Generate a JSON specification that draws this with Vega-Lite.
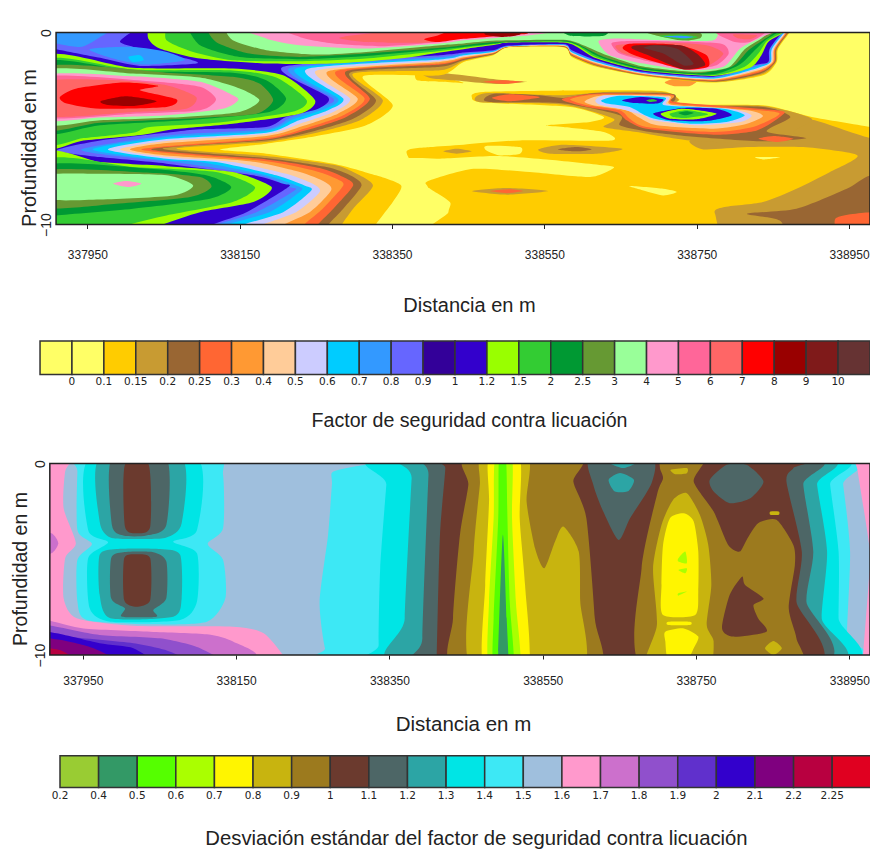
{"$schema":"https://vega.github.io/schema/vega-lite/v6.json","padding":{"top":26.5,"left":0,"right":0,"bottom":0},"background":"white","config":{"view":{"stroke":null},"font":"Liberation Sans"},"resolve":{"scale":{"fill":"independent"}},"vconcat":[
{"width":870,"height":192,"layer":[
{"data":{"values":[
{"p":1,"c":0,"x":337800,"d":1},{"p":1,"c":0,"x":339100,"d":1},{"p":1,"c":0,"x":339100,"d":-11},{"p":1,"c":0,"x":337800,"d":-11},
{"p":2,"c":2,"x":338455,"d":-3.41},{"p":2,"c":2,"x":338470,"d":-3.1},{"p":2,"c":2,"x":338628,"d":-3.01},{"p":2,"c":2,"x":338706,"d":-3.06},{"p":2,"c":2,"x":338727,"d":-3.48},{"p":2,"c":2,"x":338726,"d":-3.76},{"p":2,"c":2,"x":338837,"d":-3.79},{"p":2,"c":2,"x":338901,"d":-4.4},{"p":2,"c":2,"x":338978,"d":-4.92},{"p":2,"c":2,"x":339034,"d":-5.36},{"p":2,"c":2,"x":339034,"d":-11.1},{"p":2,"c":2,"x":338420,"d":-11.1},{"p":2,"c":2,"x":338424,"d":-9.36},{"p":2,"c":2,"x":338426,"d":-8.83},{"p":2,"c":2,"x":338400,"d":-8.14},{"p":2,"c":2,"x":338396,"d":-7.97},{"p":2,"c":2,"x":338369,"d":-6.23},{"p":2,"c":2,"x":338400,"d":-5.97},{"p":2,"c":2,"x":338444,"d":-5.84},{"p":2,"c":2,"x":338518,"d":-5.62},{"p":2,"c":2,"x":338638,"d":-5.62},{"p":2,"c":2,"x":338628,"d":-5.18},{"p":2,"c":2,"x":338575,"d":-4.92},{"p":2,"c":2,"x":338553,"d":-4.83},{"p":2,"c":2,"x":338610,"d":-4.66},{"p":2,"c":2,"x":338628,"d":-4.4},{"p":2,"c":2,"x":338584,"d":-3.88},{"p":2,"c":2,"x":338470,"d":-3.65},
{"p":3,"c":3,"x":338873,"d":-4.92},{"p":3,"c":3,"x":338899,"d":-4.52},{"p":3,"c":3,"x":338978,"d":-5.5},{"p":3,"c":3,"x":339034,"d":-5.62},{"p":3,"c":3,"x":339034,"d":-11.1},{"p":3,"c":3,"x":338807,"d":-11.1},{"p":3,"c":3,"x":338774,"d":-9.44},{"p":3,"c":3,"x":338785,"d":-9.1},{"p":3,"c":3,"x":338837,"d":-8.83},{"p":3,"c":3,"x":338881,"d":-8.14},{"p":3,"c":3,"x":338925,"d":-7.27},{"p":3,"c":3,"x":338961,"d":-6.4},{"p":3,"c":3,"x":338890,"d":-5.97},{"p":3,"c":3,"x":338816,"d":-5.97},{"p":3,"c":3,"x":338759,"d":-6.09},{"p":3,"c":3,"x":338741,"d":-5.62},{"p":3,"c":3,"x":338794,"d":-5.18},
{"p":4,"c":4,"x":338816,"d":-9.44},{"p":4,"c":4,"x":338881,"d":-9.18},{"p":4,"c":4,"x":338947,"d":-8.14},{"p":4,"c":4,"x":338978,"d":-7.44},{"p":4,"c":4,"x":339034,"d":-7.27},{"p":4,"c":4,"x":339034,"d":-11.1},{"p":4,"c":4,"x":338886,"d":-11.1},{"p":4,"c":4,"x":338859,"d":-9.79},
{"p":5,"c":5,"x":338932,"d":-9.7},{"p":5,"c":5,"x":338978,"d":-9.36},{"p":5,"c":5,"x":339034,"d":-9.36},{"p":5,"c":5,"x":339034,"d":-11.1},{"p":5,"c":5,"x":338947,"d":-11.1},
{"p":6,"c":0,"x":338356,"d":-6.66},{"p":6,"c":0,"x":338383,"d":-6.54},{"p":6,"c":0,"x":338413,"d":-6.57},{"p":6,"c":0,"x":338487,"d":-6.43},{"p":6,"c":0,"x":338553,"d":-6.61},{"p":6,"c":0,"x":338628,"d":-6.92},{"p":6,"c":0,"x":338641,"d":-7.06},{"p":6,"c":0,"x":338610,"d":-7.53},{"p":6,"c":0,"x":338531,"d":-7.27},{"p":6,"c":0,"x":338457,"d":-7.1},{"p":6,"c":0,"x":338400,"d":-7.7},{"p":6,"c":0,"x":338387,"d":-8.05},{"p":6,"c":0,"x":338356,"d":-8.14},
{"p":7,"c":0,"x":338474,"d":-5.91},{"p":7,"c":0,"x":338518,"d":-5.97},{"p":7,"c":0,"x":338518,"d":-6.31},{"p":7,"c":0,"x":338492,"d":-6.4},{"p":7,"c":0,"x":338474,"d":-6.14},
{"p":8,"c":0,"x":338662,"d":-8},{"p":8,"c":0,"x":338706,"d":-8.14},{"p":8,"c":0,"x":338724,"d":-8.31},{"p":8,"c":0,"x":338706,"d":-8.49},{"p":8,"c":0,"x":338680,"d":-8.23},
{"p":9,"c":0,"x":338827,"d":-6.49},{"p":9,"c":0,"x":338859,"d":-6.49},{"p":9,"c":0,"x":338837,"d":-6.61},
{"p":10,"c":3,"x":338417,"d":-6.19},{"p":10,"c":3,"x":338435,"d":-6.05},{"p":10,"c":3,"x":338455,"d":-6.19},{"p":10,"c":3,"x":338435,"d":-6.31},
{"p":11,"c":3,"x":338542,"d":-6.09},{"p":11,"c":3,"x":338575,"d":-5.84},{"p":11,"c":3,"x":338652,"d":-6.05},{"p":11,"c":3,"x":338619,"d":-6.31},{"p":11,"c":3,"x":338558,"d":-6.31},
{"p":12,"c":4,"x":338568,"d":-6.09},{"p":12,"c":4,"x":338592,"d":-5.97},{"p":12,"c":4,"x":338612,"d":-6.09},{"p":12,"c":4,"x":338592,"d":-6.19},
{"p":13,"c":3,"x":338455,"d":-8.26},{"p":13,"c":3,"x":338501,"d":-8.1},{"p":13,"c":3,"x":338555,"d":-8.26},{"p":13,"c":3,"x":338501,"d":-8.45},
{"p":14,"c":5,"x":338479,"d":-8.26},{"p":14,"c":5,"x":338505,"d":-8.17},{"p":14,"c":5,"x":338522,"d":-8.26},{"p":14,"c":5,"x":338501,"d":-8.37},
{"p":15,"c":3,"x":338459,"d":-3.41},{"p":15,"c":3,"x":338477,"d":-3.15},{"p":15,"c":3,"x":338575,"d":-3.27},{"p":15,"c":3,"x":338628,"d":-3.1},{"p":15,"c":3,"x":338706,"d":-3.1},{"p":15,"c":3,"x":338726,"d":-3.48},{"p":15,"c":3,"x":338726,"d":-3.79},{"p":15,"c":3,"x":338837,"d":-3.83},{"p":15,"c":3,"x":338901,"d":-4.49},{"p":15,"c":3,"x":338877,"d":-5.18},{"p":15,"c":3,"x":338897,"d":-5.53},{"p":15,"c":3,"x":338837,"d":-5.79},{"p":15,"c":3,"x":338741,"d":-5.62},{"p":15,"c":3,"x":338671,"d":-5.18},{"p":15,"c":3,"x":338628,"d":-4.92},{"p":15,"c":3,"x":338641,"d":-4.49},{"p":15,"c":3,"x":338575,"d":-3.76},{"p":15,"c":3,"x":338470,"d":-3.65},
{"p":16,"c":4,"x":338472,"d":-3.41},{"p":16,"c":4,"x":338487,"d":-3.18},{"p":16,"c":4,"x":338544,"d":-3.27},{"p":16,"c":4,"x":338575,"d":-3.41},{"p":16,"c":4,"x":338619,"d":-3.15},{"p":16,"c":4,"x":338715,"d":-3.18},{"p":16,"c":4,"x":338722,"d":-3.48},{"p":16,"c":4,"x":338722,"d":-3.83},{"p":16,"c":4,"x":338837,"d":-3.88},{"p":16,"c":4,"x":338873,"d":-4.4},{"p":16,"c":4,"x":338842,"d":-5.15},{"p":16,"c":4,"x":338894,"d":-5.5},{"p":16,"c":4,"x":338837,"d":-5.67},{"p":16,"c":4,"x":338750,"d":-5.44},{"p":16,"c":4,"x":338684,"d":-5.15},{"p":16,"c":4,"x":338649,"d":-4.83},{"p":16,"c":4,"x":338649,"d":-4.31},{"p":16,"c":4,"x":338575,"d":-3.7},{"p":16,"c":4,"x":338479,"d":-3.62},
{"p":17,"c":5,"x":338481,"d":-3.41},{"p":17,"c":5,"x":338505,"d":-3.22},{"p":17,"c":5,"x":338544,"d":-3.37},{"p":17,"c":5,"x":338505,"d":-3.58},
{"p":18,"c":5,"x":338573,"d":-3.48},{"p":18,"c":5,"x":338619,"d":-3.18},{"p":18,"c":5,"x":338717,"d":-3.23},{"p":18,"c":5,"x":338722,"d":-3.62},{"p":18,"c":5,"x":338855,"d":-4.05},{"p":18,"c":5,"x":338862,"d":-4.31},{"p":18,"c":5,"x":338829,"d":-5.1},{"p":18,"c":5,"x":338772,"d":-5.32},{"p":18,"c":5,"x":338684,"d":-5.01},{"p":18,"c":5,"x":338658,"d":-4.57},{"p":18,"c":5,"x":338645,"d":-4.14},{"p":18,"c":5,"x":338606,"d":-3.88},
{"p":19,"c":6,"x":338584,"d":-3.48},{"p":19,"c":6,"x":338619,"d":-3.23},{"p":19,"c":6,"x":338717,"d":-3.27},{"p":19,"c":6,"x":338719,"d":-3.7},{"p":19,"c":6,"x":338846,"d":-4.1},{"p":19,"c":6,"x":338857,"d":-4.31},{"p":19,"c":6,"x":338824,"d":-4.92},{"p":19,"c":6,"x":338772,"d":-5.18},{"p":19,"c":6,"x":338684,"d":-4.92},{"p":19,"c":6,"x":338662,"d":-4.49},{"p":19,"c":6,"x":338649,"d":-4.05},{"p":19,"c":6,"x":338606,"d":-3.79},
{"p":20,"c":7,"x":338603,"d":-3.58},{"p":20,"c":7,"x":338628,"d":-3.27},{"p":20,"c":7,"x":338713,"d":-3.3},{"p":20,"c":7,"x":338717,"d":-3.76},{"p":20,"c":7,"x":338816,"d":-4.05},{"p":20,"c":7,"x":338837,"d":-4.35},{"p":20,"c":7,"x":338816,"d":-4.75},{"p":20,"c":7,"x":338772,"d":-5.01},{"p":20,"c":7,"x":338698,"d":-4.83},{"p":20,"c":7,"x":338673,"d":-4.4},{"p":20,"c":7,"x":338658,"d":-4.05},{"p":20,"c":7,"x":338614,"d":-3.79},
{"p":21,"c":8,"x":338617,"d":-3.53},{"p":21,"c":8,"x":338632,"d":-3.27},{"p":21,"c":8,"x":338711,"d":-3.36},{"p":21,"c":8,"x":338713,"d":-3.76},{"p":21,"c":8,"x":338794,"d":-3.97},{"p":21,"c":8,"x":338822,"d":-4.31},{"p":21,"c":8,"x":338807,"d":-4.66},{"p":21,"c":8,"x":338750,"d":-4.83},{"p":21,"c":8,"x":338693,"d":-4.57},{"p":21,"c":8,"x":338680,"d":-4.31},{"p":21,"c":8,"x":338649,"d":-3.97},{"p":21,"c":8,"x":338623,"d":-3.76},
{"p":22,"c":9,"x":338625,"d":-3.53},{"p":22,"c":9,"x":338649,"d":-3.3},{"p":22,"c":9,"x":338708,"d":-3.39},{"p":22,"c":9,"x":338708,"d":-3.79},{"p":22,"c":9,"x":338785,"d":-3.97},{"p":22,"c":9,"x":338813,"d":-4.31},{"p":22,"c":9,"x":338789,"d":-4.66},{"p":22,"c":9,"x":338741,"d":-4.75},{"p":22,"c":9,"x":338698,"d":-4.52},{"p":22,"c":9,"x":338682,"d":-4.31},{"p":22,"c":9,"x":338662,"d":-3.88},{"p":22,"c":9,"x":338632,"d":-3.7},
{"p":23,"c":13,"x":338652,"d":-3.53},{"p":23,"c":13,"x":338676,"d":-3.36},{"p":23,"c":13,"x":338706,"d":-3.48},{"p":23,"c":13,"x":338698,"d":-3.7},{"p":23,"c":13,"x":338667,"d":-3.67},
{"p":24,"c":15,"x":338684,"d":-3.53},{"p":24,"c":15,"x":338693,"d":-3.48},{"p":24,"c":15,"x":338698,"d":-3.57},{"p":24,"c":15,"x":338689,"d":-3.62},
{"p":25,"c":13,"x":338693,"d":-4.22},{"p":25,"c":13,"x":338732,"d":-3.93},{"p":25,"c":13,"x":338776,"d":-3.97},{"p":25,"c":13,"x":338796,"d":-4.31},{"p":25,"c":13,"x":338763,"d":-4.61},{"p":25,"c":13,"x":338715,"d":-4.57},
{"p":26,"c":14,"x":338703,"d":-4.22},{"p":26,"c":14,"x":338732,"d":-3.97},{"p":26,"c":14,"x":338776,"d":-4.22},{"p":26,"c":14,"x":338750,"d":-4.52},{"p":26,"c":14,"x":338715,"d":-4.49},
{"p":27,"c":15,"x":338715,"d":-4.22},{"p":27,"c":15,"x":338737,"d":-4.05},{"p":27,"c":15,"x":338765,"d":-4.26},{"p":27,"c":15,"x":338737,"d":-4.45},{"p":27,"c":15,"x":338719,"d":-4.4},
{"p":28,"c":16,"x":338726,"d":-4.19},{"p":28,"c":16,"x":338737,"d":-4.1},{"p":28,"c":16,"x":338746,"d":-4.19},{"p":28,"c":16,"x":338735,"d":-4.31},
{"p":29,"c":5,"x":338831,"d":-5.53},{"p":29,"c":5,"x":338851,"d":-5.39},{"p":29,"c":5,"x":338877,"d":-5.53},{"p":29,"c":5,"x":338855,"d":-5.7},
{"p":30,"c":2,"x":338383,"d":-1.97},{"p":30,"c":2,"x":338417,"d":-2.31},{"p":30,"c":2,"x":338444,"d":-2.63},{"p":30,"c":2,"x":338417,"d":-2.57},{"p":30,"c":2,"x":338383,"d":-2.49},
{"p":31,"c":3,"x":338387,"d":-2.02},{"p":31,"c":3,"x":338444,"d":-2.23},{"p":31,"c":3,"x":338487,"d":-2.45},{"p":31,"c":3,"x":338527,"d":-2.57},{"p":31,"c":3,"x":338487,"d":-2.68},{"p":31,"c":3,"x":338444,"d":-2.54},{"p":31,"c":3,"x":338400,"d":-2.37},
{"p":32,"c":5,"x":338470,"d":-2.57},{"p":32,"c":5,"x":338496,"d":-2.49},{"p":32,"c":5,"x":338522,"d":-2.57},{"p":32,"c":5,"x":338496,"d":-2.68},
{"p":33,"c":6,"x":338708,"d":-2.61},{"p":33,"c":6,"x":338722,"d":-2.4},{"p":33,"c":6,"x":338750,"d":-2.5},{"p":33,"c":6,"x":338741,"d":-2.78},{"p":33,"c":6,"x":338719,"d":-2.78},
{"p":40,"c":2,"x":338879,"d":0.38},{"p":40,"c":2,"x":338857,"d":-0.83},{"p":40,"c":2,"x":338855,"d":-1.53},{"p":40,"c":2,"x":338837,"d":-2.23},{"p":40,"c":2,"x":338772,"d":-2.61},{"p":40,"c":2,"x":338680,"d":-2.26},{"p":40,"c":2,"x":338619,"d":-1.79},{"p":40,"c":2,"x":338586,"d":-1.27},{"p":40,"c":2,"x":338575,"d":-0.77},{"p":40,"c":2,"x":338503,"d":-0.77},{"p":40,"c":2,"x":338483,"d":-1.18},{"p":40,"c":2,"x":338444,"d":-1.53},{"p":40,"c":2,"x":338413,"d":-2.23},{"p":40,"c":2,"x":338312,"d":-2.28},{"p":40,"c":2,"x":338351,"d":-3.79},{"p":40,"c":2,"x":338316,"d":-4.83},{"p":40,"c":2,"x":338251,"d":-5.39},{"p":40,"c":2,"x":338185,"d":-5.79},{"p":40,"c":2,"x":338124,"d":-6.09},{"p":40,"c":2,"x":338185,"d":-6.31},{"p":40,"c":2,"x":338273,"d":-6.83},{"p":40,"c":2,"x":338329,"d":-7.44},{"p":40,"c":2,"x":338362,"d":-7.97},{"p":40,"c":2,"x":338351,"d":-8.83},{"p":40,"c":2,"x":338325,"d":-10.23},{"p":40,"c":2,"x":338316,"d":-11.44},{"p":40,"c":2,"x":337879,"d":-11.44},{"p":40,"c":2,"x":337879,"d":0.73},{"p":40,"c":2,"x":338879,"d":0.73},
{"p":41,"c":3,"x":338878,"d":0.38},{"p":41,"c":3,"x":338856,"d":-0.83},{"p":41,"c":3,"x":338854,"d":-1.53},{"p":41,"c":3,"x":338836,"d":-2.17},{"p":41,"c":3,"x":338772,"d":-2.58},{"p":41,"c":3,"x":338680,"d":-2.24},{"p":41,"c":3,"x":338619,"d":-1.76},{"p":41,"c":3,"x":338586,"d":-1.23},{"p":41,"c":3,"x":338575,"d":-0.75},{"p":41,"c":3,"x":338503,"d":-0.76},{"p":41,"c":3,"x":338483,"d":-1.15},{"p":41,"c":3,"x":338444,"d":-1.48},{"p":41,"c":3,"x":338413,"d":-1.97},{"p":41,"c":3,"x":338299,"d":-2.14},{"p":41,"c":3,"x":338338,"d":-3.53},{"p":41,"c":3,"x":338308,"d":-4.57},{"p":41,"c":3,"x":338251,"d":-5.22},{"p":41,"c":3,"x":338185,"d":-5.7},{"p":41,"c":3,"x":338067,"d":-6.05},{"p":41,"c":3,"x":338185,"d":-6.43},{"p":41,"c":3,"x":338273,"d":-6.89},{"p":41,"c":3,"x":338299,"d":-7.27},{"p":41,"c":3,"x":338325,"d":-7.97},{"p":41,"c":3,"x":338299,"d":-9.18},{"p":41,"c":3,"x":338281,"d":-10.23},{"p":41,"c":3,"x":338273,"d":-11.44},{"p":41,"c":3,"x":337879,"d":-11.44},{"p":41,"c":3,"x":337879,"d":0.73},{"p":41,"c":3,"x":338878,"d":0.73},
{"p":42,"c":4,"x":338877,"d":0.38},{"p":42,"c":4,"x":338855,"d":-0.83},{"p":42,"c":4,"x":338853,"d":-1.53},{"p":42,"c":4,"x":338834,"d":-2.13},{"p":42,"c":4,"x":338772,"d":-2.55},{"p":42,"c":4,"x":338680,"d":-2.22},{"p":42,"c":4,"x":338619,"d":-1.72},{"p":42,"c":4,"x":338586,"d":-1.2},{"p":42,"c":4,"x":338575,"d":-0.74},{"p":42,"c":4,"x":338503,"d":-0.75},{"p":42,"c":4,"x":338483,"d":-1.13},{"p":42,"c":4,"x":338444,"d":-1.43},{"p":42,"c":4,"x":338413,"d":-1.79},{"p":42,"c":4,"x":338295,"d":-2.09},{"p":42,"c":4,"x":338329,"d":-3.53},{"p":42,"c":4,"x":338299,"d":-4.49},{"p":42,"c":4,"x":338246,"d":-5.15},{"p":42,"c":4,"x":338185,"d":-5.62},{"p":42,"c":4,"x":338049,"d":-6.05},{"p":42,"c":4,"x":338185,"d":-6.54},{"p":42,"c":4,"x":338264,"d":-7.01},{"p":42,"c":4,"x":338295,"d":-7.44},{"p":42,"c":4,"x":338310,"d":-7.97},{"p":42,"c":4,"x":338286,"d":-9.18},{"p":42,"c":4,"x":338262,"d":-10.23},{"p":42,"c":4,"x":338251,"d":-11.44},{"p":42,"c":4,"x":337879,"d":-11.44},{"p":42,"c":4,"x":337879,"d":0.73},{"p":42,"c":4,"x":338877,"d":0.73},
{"p":43,"c":5,"x":338876,"d":0.38},{"p":43,"c":5,"x":338854,"d":-0.83},{"p":43,"c":5,"x":338852,"d":-1.53},{"p":43,"c":5,"x":338833,"d":-2.07},{"p":43,"c":5,"x":338772,"d":-2.52},{"p":43,"c":5,"x":338680,"d":-2.2},{"p":43,"c":5,"x":338619,"d":-1.69},{"p":43,"c":5,"x":338586,"d":-1.17},{"p":43,"c":5,"x":338575,"d":-0.72},{"p":43,"c":5,"x":338503,"d":-0.74},{"p":43,"c":5,"x":338483,"d":-1.1},{"p":43,"c":5,"x":338444,"d":-1.38},{"p":43,"c":5,"x":338413,"d":-1.67},{"p":43,"c":5,"x":338290,"d":-2.02},{"p":43,"c":5,"x":338321,"d":-3.44},{"p":43,"c":5,"x":338290,"d":-4.4},{"p":43,"c":5,"x":338242,"d":-5.04},{"p":43,"c":5,"x":338185,"d":-5.57},{"p":43,"c":5,"x":338034,"d":-6.09},{"p":43,"c":5,"x":338185,"d":-6.61},{"p":43,"c":5,"x":338255,"d":-7.06},{"p":43,"c":5,"x":338286,"d":-7.53},{"p":43,"c":5,"x":338299,"d":-7.97},{"p":43,"c":5,"x":338273,"d":-9.18},{"p":43,"c":5,"x":338248,"d":-10.23},{"p":43,"c":5,"x":338238,"d":-11.44},{"p":43,"c":5,"x":337879,"d":-11.44},{"p":43,"c":5,"x":337879,"d":0.73},{"p":43,"c":5,"x":338876,"d":0.73},
{"p":44,"c":6,"x":338875,"d":0.38},{"p":44,"c":6,"x":338853,"d":-0.83},{"p":44,"c":6,"x":338851,"d":-1.53},{"p":44,"c":6,"x":338832,"d":-2.02},{"p":44,"c":6,"x":338772,"d":-2.49},{"p":44,"c":6,"x":338680,"d":-2.18},{"p":44,"c":6,"x":338619,"d":-1.65},{"p":44,"c":6,"x":338586,"d":-1.13},{"p":44,"c":6,"x":338575,"d":-0.7},{"p":44,"c":6,"x":338503,"d":-0.73},{"p":44,"c":6,"x":338483,"d":-1.08},{"p":44,"c":6,"x":338444,"d":-1.33},{"p":44,"c":6,"x":338413,"d":-1.62},{"p":44,"c":6,"x":338277,"d":-2.02},{"p":44,"c":6,"x":338314,"d":-3.44},{"p":44,"c":6,"x":338286,"d":-4.31},{"p":44,"c":6,"x":338238,"d":-4.97},{"p":44,"c":6,"x":338185,"d":-5.5},{"p":44,"c":6,"x":338021,"d":-6.09},{"p":44,"c":6,"x":338185,"d":-6.7},{"p":44,"c":6,"x":338246,"d":-7.18},{"p":44,"c":6,"x":338277,"d":-7.62},{"p":44,"c":6,"x":338286,"d":-7.97},{"p":44,"c":6,"x":338259,"d":-9.18},{"p":44,"c":6,"x":338229,"d":-10.23},{"p":44,"c":6,"x":338216,"d":-11.44},{"p":44,"c":6,"x":337879,"d":-11.44},{"p":44,"c":6,"x":337879,"d":0.73},{"p":44,"c":6,"x":338875,"d":0.73},
{"p":45,"c":7,"x":338874,"d":0.38},{"p":45,"c":7,"x":338852,"d":-0.83},{"p":45,"c":7,"x":338850,"d":-1.53},{"p":45,"c":7,"x":338831,"d":-1.97},{"p":45,"c":7,"x":338772,"d":-2.46},{"p":45,"c":7,"x":338680,"d":-2.16},{"p":45,"c":7,"x":338619,"d":-1.62},{"p":45,"c":7,"x":338586,"d":-1.1},{"p":45,"c":7,"x":338575,"d":-0.69},{"p":45,"c":7,"x":338503,"d":-0.73},{"p":45,"c":7,"x":338483,"d":-1.05},{"p":45,"c":7,"x":338444,"d":-1.29},{"p":45,"c":7,"x":338413,"d":-1.53},{"p":45,"c":7,"x":338266,"d":-2.02},{"p":45,"c":7,"x":338305,"d":-3.44},{"p":45,"c":7,"x":338279,"d":-4.23},{"p":45,"c":7,"x":338233,"d":-4.87},{"p":45,"c":7,"x":338185,"d":-5.39},{"p":45,"c":7,"x":338054,"d":-5.76},{"p":45,"c":7,"x":338006,"d":-6.09},{"p":45,"c":7,"x":338054,"d":-6.4},{"p":45,"c":7,"x":338163,"d":-6.7},{"p":45,"c":7,"x":338229,"d":-7.27},{"p":45,"c":7,"x":338262,"d":-7.79},{"p":45,"c":7,"x":338270,"d":-8.23},{"p":45,"c":7,"x":338242,"d":-9.36},{"p":45,"c":7,"x":338198,"d":-10.23},{"p":45,"c":7,"x":338185,"d":-11.44},{"p":45,"c":7,"x":337879,"d":-11.44},{"p":45,"c":7,"x":337879,"d":0.73},{"p":45,"c":7,"x":338874,"d":0.73},
{"p":46,"c":8,"x":338873,"d":0.38},{"p":46,"c":8,"x":338851,"d":-0.83},{"p":46,"c":8,"x":338848,"d":-1.53},{"p":46,"c":8,"x":338829,"d":-1.92},{"p":46,"c":8,"x":338772,"d":-2.42},{"p":46,"c":8,"x":338680,"d":-2.13},{"p":46,"c":8,"x":338619,"d":-1.58},{"p":46,"c":8,"x":338586,"d":-1.06},{"p":46,"c":8,"x":338575,"d":-0.67},{"p":46,"c":8,"x":338503,"d":-0.72},{"p":46,"c":8,"x":338483,"d":-1.02},{"p":46,"c":8,"x":338444,"d":-1.24},{"p":46,"c":8,"x":338413,"d":-1.48},{"p":46,"c":8,"x":338251,"d":-1.98},{"p":46,"c":8,"x":338295,"d":-3.44},{"p":46,"c":8,"x":338273,"d":-4.14},{"p":46,"c":8,"x":338229,"d":-4.75},{"p":46,"c":8,"x":338185,"d":-5.29},{"p":46,"c":8,"x":338054,"d":-5.65},{"p":46,"c":8,"x":337993,"d":-6.09},{"p":46,"c":8,"x":338054,"d":-6.49},{"p":46,"c":8,"x":338141,"d":-6.75},{"p":46,"c":8,"x":338211,"d":-7.36},{"p":46,"c":8,"x":338246,"d":-7.88},{"p":46,"c":8,"x":338255,"d":-8.31},{"p":46,"c":8,"x":338224,"d":-9.36},{"p":46,"c":8,"x":338168,"d":-10.23},{"p":46,"c":8,"x":338154,"d":-11.44},{"p":46,"c":8,"x":337879,"d":-11.44},{"p":46,"c":8,"x":337879,"d":0.73},{"p":46,"c":8,"x":338873,"d":0.73},
{"p":47,"c":9,"x":338872,"d":0.38},{"p":47,"c":9,"x":338849,"d":-0.83},{"p":47,"c":9,"x":338847,"d":-1.53},{"p":47,"c":9,"x":338828,"d":-1.87},{"p":47,"c":9,"x":338772,"d":-2.39},{"p":47,"c":9,"x":338680,"d":-2.11},{"p":47,"c":9,"x":338619,"d":-1.55},{"p":47,"c":9,"x":338586,"d":-1.03},{"p":47,"c":9,"x":338575,"d":-0.65},{"p":47,"c":9,"x":338503,"d":-0.71},{"p":47,"c":9,"x":338483,"d":-1},{"p":47,"c":9,"x":338444,"d":-1.19},{"p":47,"c":9,"x":338413,"d":-1.41},{"p":47,"c":9,"x":338238,"d":-1.91},{"p":47,"c":9,"x":338286,"d":-3.44},{"p":47,"c":9,"x":338266,"d":-4.05},{"p":47,"c":9,"x":338224,"d":-4.63},{"p":47,"c":9,"x":338185,"d":-5.22},{"p":47,"c":9,"x":338054,"d":-5.55},{"p":47,"c":9,"x":337977,"d":-6.09},{"p":47,"c":9,"x":338054,"d":-6.57},{"p":47,"c":9,"x":338119,"d":-6.75},{"p":47,"c":9,"x":338198,"d":-7.44},{"p":47,"c":9,"x":338235,"d":-7.97},{"p":47,"c":9,"x":338244,"d":-8.23},{"p":47,"c":9,"x":338207,"d":-9.36},{"p":47,"c":9,"x":338141,"d":-10.23},{"p":47,"c":9,"x":338128,"d":-11.44},{"p":47,"c":9,"x":337879,"d":-11.44},{"p":47,"c":9,"x":337879,"d":0.73},{"p":47,"c":9,"x":338872,"d":0.73},
{"p":48,"c":10,"x":338871,"d":0.38},{"p":48,"c":10,"x":338848,"d":-0.83},{"p":48,"c":10,"x":338846,"d":-1.53},{"p":48,"c":10,"x":338827,"d":-1.81},{"p":48,"c":10,"x":338772,"d":-2.36},{"p":48,"c":10,"x":338680,"d":-2.09},{"p":48,"c":10,"x":338619,"d":-1.51},{"p":48,"c":10,"x":338586,"d":-0.99},{"p":48,"c":10,"x":338575,"d":-0.63},{"p":48,"c":10,"x":338503,"d":-0.7},{"p":48,"c":10,"x":338483,"d":-0.97},{"p":48,"c":10,"x":338444,"d":-1.14},{"p":48,"c":10,"x":338413,"d":-1.36},{"p":48,"c":10,"x":338224,"d":-1.88},{"p":48,"c":10,"x":338279,"d":-3.44},{"p":48,"c":10,"x":338262,"d":-3.97},{"p":48,"c":10,"x":338220,"d":-4.52},{"p":48,"c":10,"x":338185,"d":-5.13},{"p":48,"c":10,"x":338054,"d":-5.46},{"p":48,"c":10,"x":337957,"d":-6.09},{"p":48,"c":10,"x":338054,"d":-6.66},{"p":48,"c":10,"x":338098,"d":-6.75},{"p":48,"c":10,"x":338185,"d":-7.44},{"p":48,"c":10,"x":338224,"d":-7.97},{"p":48,"c":10,"x":338231,"d":-8.23},{"p":48,"c":10,"x":338189,"d":-9.36},{"p":48,"c":10,"x":338119,"d":-10.23},{"p":48,"c":10,"x":338106,"d":-11.44},{"p":48,"c":10,"x":337879,"d":-11.44},{"p":48,"c":10,"x":337879,"d":0.73},{"p":48,"c":10,"x":338871,"d":0.73},
{"p":49,"c":11,"x":338870,"d":0.38},{"p":49,"c":11,"x":338847,"d":-0.83},{"p":49,"c":11,"x":338845,"d":-1.53},{"p":49,"c":11,"x":338825,"d":-1.76},{"p":49,"c":11,"x":338772,"d":-2.33},{"p":49,"c":11,"x":338680,"d":-2.07},{"p":49,"c":11,"x":338619,"d":-1.48},{"p":49,"c":11,"x":338586,"d":-0.96},{"p":49,"c":11,"x":338575,"d":-0.62},{"p":49,"c":11,"x":338503,"d":-0.69},{"p":49,"c":11,"x":338483,"d":-0.95},{"p":49,"c":11,"x":338444,"d":-1.09},{"p":49,"c":11,"x":338413,"d":-1.27},{"p":49,"c":11,"x":338216,"d":-1.84},{"p":49,"c":11,"x":338273,"d":-3.44},{"p":49,"c":11,"x":338257,"d":-3.88},{"p":49,"c":11,"x":338216,"d":-4.45},{"p":49,"c":11,"x":338185,"d":-5.04},{"p":49,"c":11,"x":338054,"d":-5.36},{"p":49,"c":11,"x":337942,"d":-6.09},{"p":49,"c":11,"x":338010,"d":-6.54},{"p":49,"c":11,"x":338071,"d":-6.78},{"p":49,"c":11,"x":338176,"d":-7.44},{"p":49,"c":11,"x":338216,"d":-8.05},{"p":49,"c":11,"x":338222,"d":-8.23},{"p":49,"c":11,"x":338172,"d":-9.36},{"p":49,"c":11,"x":338106,"d":-10.23},{"p":49,"c":11,"x":338093,"d":-11.44},{"p":49,"c":11,"x":337879,"d":-11.44},{"p":49,"c":11,"x":337879,"d":0.73},{"p":49,"c":11,"x":338870,"d":0.73},
{"p":50,"c":13,"x":338869,"d":0.38},{"p":50,"c":13,"x":338846,"d":-0.83},{"p":50,"c":13,"x":338844,"d":-1.53},{"p":50,"c":13,"x":338824,"d":-1.71},{"p":50,"c":13,"x":338772,"d":-2.3},{"p":50,"c":13,"x":338680,"d":-2.05},{"p":50,"c":13,"x":338619,"d":-1.44},{"p":50,"c":13,"x":338586,"d":-0.92},{"p":50,"c":13,"x":338575,"d":-0.6},{"p":50,"c":13,"x":338503,"d":-0.68},{"p":50,"c":13,"x":338483,"d":-0.92},{"p":50,"c":13,"x":338444,"d":-1.04},{"p":50,"c":13,"x":338413,"d":-1.18},{"p":50,"c":13,"x":338207,"d":-1.79},{"p":50,"c":13,"x":338266,"d":-3.36},{"p":50,"c":13,"x":338253,"d":-3.97},{"p":50,"c":13,"x":338211,"d":-4.4},{"p":50,"c":13,"x":338185,"d":-4.92},{"p":50,"c":13,"x":338098,"d":-5.04},{"p":50,"c":13,"x":338063,"d":-5.18},{"p":50,"c":13,"x":337967,"d":-5.62},{"p":50,"c":13,"x":337910,"d":-6.14},{"p":50,"c":13,"x":337967,"d":-6.49},{"p":50,"c":13,"x":338054,"d":-6.83},{"p":50,"c":13,"x":338168,"d":-7.44},{"p":50,"c":13,"x":338207,"d":-7.88},{"p":50,"c":13,"x":338214,"d":-8.05},{"p":50,"c":13,"x":338159,"d":-9.36},{"p":50,"c":13,"x":338102,"d":-10.23},{"p":50,"c":13,"x":338089,"d":-11.44},{"p":50,"c":13,"x":337879,"d":-11.44},{"p":50,"c":13,"x":337879,"d":0.73},{"p":50,"c":13,"x":338869,"d":0.73},
{"p":51,"c":11,"x":337901,"d":0.38},{"p":51,"c":11,"x":338019,"d":0.38},{"p":51,"c":11,"x":338008,"d":0.03},{"p":51,"c":11,"x":337993,"d":-0.49},{"p":51,"c":11,"x":338019,"d":-0.83},{"p":51,"c":11,"x":338080,"d":-1.36},{"p":51,"c":11,"x":338093,"d":-1.62},{"p":51,"c":11,"x":338019,"d":-1.74},{"p":51,"c":11,"x":337967,"d":-1.32},{"p":51,"c":11,"x":337909,"d":-0.87},{"p":51,"c":11,"x":337896,"d":-0.75},
{"p":52,"c":10,"x":337901,"d":0.38},{"p":52,"c":10,"x":337984,"d":0.38},{"p":52,"c":10,"x":337964,"d":-0.31},{"p":52,"c":10,"x":337940,"d":-0.75},{"p":52,"c":10,"x":337896,"d":-0.4},
{"p":53,"c":10,"x":337953,"d":-0.87},{"p":53,"c":10,"x":338010,"d":-0.75},{"p":53,"c":10,"x":338054,"d":-1.01},{"p":53,"c":10,"x":338078,"d":-1.44},{"p":53,"c":10,"x":338023,"d":-1.67},{"p":53,"c":10,"x":337984,"d":-1.36},
{"p":54,"c":9,"x":338004,"d":-1.27},{"p":54,"c":9,"x":338019,"d":-1.18},{"p":54,"c":9,"x":338024,"d":-1.44},{"p":54,"c":9,"x":338010,"d":-1.53},
{"p":60,"c":14,"x":338030,"d":0.38},{"p":60,"c":14,"x":338030,"d":-0.31},{"p":60,"c":14,"x":338045,"d":-0.83},{"p":60,"c":14,"x":338098,"d":-1.36},{"p":60,"c":14,"x":338185,"d":-1.62},{"p":60,"c":14,"x":338273,"d":-1.62},{"p":60,"c":14,"x":338360,"d":-1.36},{"p":60,"c":14,"x":338413,"d":-1.04},{"p":60,"c":14,"x":338444,"d":-0.87},{"p":60,"c":14,"x":338487,"d":-0.63},{"p":60,"c":14,"x":338503,"d":-0.52},{"p":60,"c":14,"x":338575,"d":-0.52},{"p":60,"c":14,"x":338593,"d":-0.75},{"p":60,"c":14,"x":338619,"d":-1.36},{"p":60,"c":14,"x":338680,"d":-1.98},{"p":60,"c":14,"x":338772,"d":-2.26},{"p":60,"c":14,"x":338820,"d":-1.84},{"p":60,"c":14,"x":338835,"d":-1.18},{"p":60,"c":14,"x":338844,"d":-0.49},{"p":60,"c":14,"x":338864,"d":0},{"p":60,"c":14,"x":338868,"d":0.38},{"p":60,"c":14,"x":338868,"d":0.73},{"p":60,"c":14,"x":338030,"d":0.73},
{"p":61,"c":15,"x":338054,"d":0.38},{"p":61,"c":15,"x":338054,"d":-0.4},{"p":61,"c":15,"x":338089,"d":-1.01},{"p":61,"c":15,"x":338141,"d":-1.44},{"p":61,"c":15,"x":338229,"d":-1.5},{"p":61,"c":15,"x":338316,"d":-1.36},{"p":61,"c":15,"x":338413,"d":-0.97},{"p":61,"c":15,"x":338444,"d":-0.8},{"p":61,"c":15,"x":338487,"d":-0.59},{"p":61,"c":15,"x":338503,"d":-0.5},{"p":61,"c":15,"x":338575,"d":-0.49},{"p":61,"c":15,"x":338595,"d":-0.71},{"p":61,"c":15,"x":338619,"d":-1.3},{"p":61,"c":15,"x":338680,"d":-1.95},{"p":61,"c":15,"x":338772,"d":-2.23},{"p":61,"c":15,"x":338813,"d":-1.79},{"p":61,"c":15,"x":338831,"d":-1.1},{"p":61,"c":15,"x":338842,"d":-0.45},{"p":61,"c":15,"x":338862,"d":0},{"p":61,"c":15,"x":338866,"d":0.38},{"p":61,"c":15,"x":338866,"d":0.73},{"p":61,"c":15,"x":338054,"d":0.73},
{"p":62,"c":16,"x":338080,"d":0.38},{"p":62,"c":16,"x":338098,"d":-0.66},{"p":62,"c":16,"x":338150,"d":-1.27},{"p":62,"c":16,"x":338229,"d":-1.39},{"p":62,"c":16,"x":338316,"d":-1.22},{"p":62,"c":16,"x":338413,"d":-0.87},{"p":62,"c":16,"x":338444,"d":-0.75},{"p":62,"c":16,"x":338487,"d":-0.56},{"p":62,"c":16,"x":338503,"d":-0.49},{"p":62,"c":16,"x":338575,"d":-0.45},{"p":62,"c":16,"x":338597,"d":-0.71},{"p":62,"c":16,"x":338623,"d":-1.27},{"p":62,"c":16,"x":338680,"d":-1.91},{"p":62,"c":16,"x":338767,"d":-2.19},{"p":62,"c":16,"x":338805,"d":-1.7},{"p":62,"c":16,"x":338824,"d":-1.01},{"p":62,"c":16,"x":338840,"d":-0.4},{"p":62,"c":16,"x":338857,"d":0.03},{"p":62,"c":16,"x":338862,"d":0.38},{"p":62,"c":16,"x":338862,"d":0.73},{"p":62,"c":16,"x":338080,"d":0.73},
{"p":63,"c":17,"x":338104,"d":0.38},{"p":63,"c":17,"x":338119,"d":-0.49},{"p":63,"c":17,"x":338163,"d":-1.1},{"p":63,"c":17,"x":338229,"d":-1.27},{"p":63,"c":17,"x":338316,"d":-1.1},{"p":63,"c":17,"x":338413,"d":-0.8},{"p":63,"c":17,"x":338444,"d":-0.66},{"p":63,"c":17,"x":338487,"d":-0.49},{"p":63,"c":17,"x":338575,"d":-0.42},{"p":63,"c":17,"x":338599,"d":-0.7},{"p":63,"c":17,"x":338628,"d":-1.27},{"p":63,"c":17,"x":338680,"d":-1.84},{"p":63,"c":17,"x":338750,"d":-2.12},{"p":63,"c":17,"x":338796,"d":-1.79},{"p":63,"c":17,"x":338818,"d":-0.92},{"p":63,"c":17,"x":338837,"d":-0.4},{"p":63,"c":17,"x":338853,"d":0.03},{"p":63,"c":17,"x":338858,"d":0.38},{"p":63,"c":17,"x":338858,"d":0.73},{"p":63,"c":17,"x":338104,"d":0.73},
{"p":64,"c":18,"x":338128,"d":0.38},{"p":64,"c":18,"x":338141,"d":-0.4},{"p":64,"c":18,"x":338185,"d":-0.92},{"p":64,"c":18,"x":338251,"d":-1.15},{"p":64,"c":18,"x":338316,"d":-1.01},{"p":64,"c":18,"x":338413,"d":-0.66},{"p":64,"c":18,"x":338444,"d":-0.57},{"p":64,"c":18,"x":338487,"d":-0.42},{"p":64,"c":18,"x":338575,"d":-0.38},{"p":64,"c":18,"x":338601,"d":-0.66},{"p":64,"c":18,"x":338632,"d":-1.18},{"p":64,"c":18,"x":338680,"d":-1.77},{"p":64,"c":18,"x":338750,"d":-2.05},{"p":64,"c":18,"x":338792,"d":-1.81},{"p":64,"c":18,"x":338813,"d":-0.87},{"p":64,"c":18,"x":338835,"d":-0.31},{"p":64,"c":18,"x":338851,"d":0.21},{"p":64,"c":18,"x":338855,"d":0.5},{"p":64,"c":18,"x":338855,"d":0.8},{"p":64,"c":18,"x":338128,"d":0.73},
{"p":65,"c":19,"x":338172,"d":0.38},{"p":65,"c":19,"x":338185,"d":-0.31},{"p":65,"c":19,"x":338229,"d":-0.66},{"p":65,"c":19,"x":338316,"d":-0.83},{"p":65,"c":19,"x":338413,"d":-0.57},{"p":65,"c":19,"x":338444,"d":-0.4},{"p":65,"c":19,"x":338487,"d":-0.28},{"p":65,"c":19,"x":338531,"d":-0.14},{"p":65,"c":19,"x":338560,"d":0.03},{"p":65,"c":19,"x":338560,"d":0.38},
{"p":66,"c":20,"x":338218,"d":0.38},{"p":66,"c":20,"x":338229,"d":-0.23},{"p":66,"c":20,"x":338273,"d":-0.57},{"p":66,"c":20,"x":338338,"d":-0.71},{"p":66,"c":20,"x":338413,"d":-0.49},{"p":66,"c":20,"x":338444,"d":-0.28},{"p":66,"c":20,"x":338487,"d":-0.14},{"p":66,"c":20,"x":338540,"d":0.12},{"p":66,"c":20,"x":338540,"d":0.38},
{"p":67,"c":21,"x":338281,"d":-0.28},{"p":67,"c":21,"x":338316,"d":-0.49},{"p":67,"c":21,"x":338395,"d":-0.52},{"p":67,"c":21,"x":338444,"d":-0.17},{"p":67,"c":21,"x":338509,"d":-0.1},{"p":67,"c":21,"x":338531,"d":0.12},{"p":67,"c":21,"x":338444,"d":0.38},{"p":67,"c":21,"x":338382,"d":0.2},{"p":67,"c":21,"x":338316,"d":-0.07},
{"p":68,"c":22,"x":338392,"d":-0.35},{"p":68,"c":22,"x":338410,"d":-0.5},{"p":68,"c":22,"x":338444,"d":-0.33},{"p":68,"c":22,"x":338487,"d":-0.19},{"p":68,"c":22,"x":338527,"d":-0.07},{"p":68,"c":22,"x":338522,"d":0.21},{"p":68,"c":22,"x":338440,"d":0.2},{"p":68,"c":22,"x":338410,"d":-0.15},
{"p":69,"c":23,"x":338472,"d":-0.1},{"p":69,"c":23,"x":338496,"d":-0.23},{"p":69,"c":23,"x":338518,"d":-0.1},{"p":69,"c":23,"x":338514,"d":0.21},{"p":69,"c":23,"x":338477,"d":0.21},
{"p":70,"c":16,"x":338573,"d":0.21},{"p":70,"c":16,"x":338584,"d":-0.17},{"p":70,"c":16,"x":338628,"d":-0.17},{"p":70,"c":16,"x":338632,"d":0.21},
{"p":71,"c":17,"x":338673,"d":0.21},{"p":71,"c":17,"x":338698,"d":-0.17},{"p":71,"c":17,"x":338732,"d":-0.42},{"p":71,"c":17,"x":338755,"d":-0.28},{"p":71,"c":17,"x":338750,"d":0.03},
{"p":72,"c":15,"x":338700,"d":-0.17},{"p":72,"c":15,"x":338732,"d":-0.37},{"p":72,"c":15,"x":338752,"d":-0.24},{"p":72,"c":15,"x":338732,"d":-0.1},
{"p":73,"c":10,"x":338706,"d":-0.21},{"p":73,"c":10,"x":338732,"d":-0.3},{"p":73,"c":10,"x":338746,"d":-0.23},{"p":73,"c":10,"x":338728,"d":-0.17},
{"p":74,"c":19,"x":338621,"d":-0.45},{"p":74,"c":19,"x":338636,"d":-1.18},{"p":74,"c":19,"x":338680,"d":-1.62},{"p":74,"c":19,"x":338741,"d":-1.97},{"p":74,"c":19,"x":338785,"d":-1.79},{"p":74,"c":19,"x":338807,"d":-0.83},{"p":74,"c":19,"x":338833,"d":-0.28},{"p":74,"c":19,"x":338851,"d":0.12},{"p":74,"c":19,"x":338785,"d":0.38},{"p":74,"c":19,"x":338772,"d":-0.4},{"p":74,"c":19,"x":338706,"d":-0.4},{"p":74,"c":19,"x":338645,"d":-0.31},
{"p":75,"c":20,"x":338638,"d":-0.57},{"p":75,"c":20,"x":338649,"d":-1.1},{"p":75,"c":20,"x":338680,"d":-1.44},{"p":75,"c":20,"x":338741,"d":-1.88},{"p":75,"c":20,"x":338776,"d":-1.7},{"p":75,"c":20,"x":338792,"d":-1.1},{"p":75,"c":20,"x":338781,"d":-0.57},{"p":75,"c":20,"x":338706,"d":-0.45},{"p":75,"c":20,"x":338654,"d":-0.45},
{"p":76,"c":20,"x":338776,"d":-0.05},{"p":76,"c":20,"x":338800,"d":-0.49},{"p":76,"c":20,"x":338820,"d":-0.49},{"p":76,"c":20,"x":338840,"d":0.03},{"p":76,"c":20,"x":338811,"d":0.3},{"p":76,"c":20,"x":338781,"d":0.3},
{"p":77,"c":21,"x":338798,"d":-0.1},{"p":77,"c":21,"x":338829,"d":-0.14},{"p":77,"c":21,"x":338820,"d":-0.35},{"p":77,"c":21,"x":338805,"d":-0.31},
{"p":78,"c":21,"x":338645,"d":-0.66},{"p":78,"c":21,"x":338654,"d":-1.1},{"p":78,"c":21,"x":338680,"d":-1.36},{"p":78,"c":21,"x":338741,"d":-1.91},{"p":78,"c":21,"x":338767,"d":-1.7},{"p":78,"c":21,"x":338785,"d":-1.1},{"p":78,"c":21,"x":338763,"d":-0.66},{"p":78,"c":21,"x":338706,"d":-0.52},
{"p":79,"c":22,"x":338653,"d":-0.83},{"p":79,"c":22,"x":338671,"d":-1.22},{"p":79,"c":22,"x":338732,"d":-1.91},{"p":79,"c":22,"x":338765,"d":-1.79},{"p":79,"c":22,"x":338763,"d":-1.18},{"p":79,"c":22,"x":338737,"d":-0.75},{"p":79,"c":22,"x":338706,"d":-0.59},{"p":79,"c":22,"x":338662,"d":-0.59},
{"p":80,"c":24,"x":338665,"d":-0.83},{"p":80,"c":24,"x":338684,"d":-1.15},{"p":80,"c":24,"x":338732,"d":-1.91},{"p":80,"c":24,"x":338761,"d":-1.7},{"p":80,"c":24,"x":338750,"d":-1.1},{"p":80,"c":24,"x":338728,"d":-0.66},{"p":80,"c":24,"x":338671,"d":-0.66},
{"p":81,"c":25,"x":338680,"d":-0.8},{"p":81,"c":25,"x":338706,"d":-1.1},{"p":81,"c":25,"x":338732,"d":-1.7},{"p":81,"c":25,"x":338746,"d":-1.62},{"p":81,"c":25,"x":338726,"d":-0.87},{"p":81,"c":25,"x":338698,"d":-0.66},
{"p":82,"c":14,"x":337896,"d":-1.23},{"p":82,"c":14,"x":338010,"d":-1.84},{"p":82,"c":14,"x":338141,"d":-1.88},{"p":82,"c":14,"x":338207,"d":-2.23},{"p":82,"c":14,"x":338249,"d":-3.53},{"p":82,"c":14,"x":338229,"d":-4.23},{"p":82,"c":14,"x":338141,"d":-4.75},{"p":82,"c":14,"x":338063,"d":-5.04},{"p":82,"c":14,"x":338023,"d":-5.32},{"p":82,"c":14,"x":337945,"d":-5.62},{"p":82,"c":14,"x":337896,"d":-5.88},
{"p":83,"c":15,"x":337896,"d":-1.44},{"p":83,"c":15,"x":338010,"d":-1.93},{"p":83,"c":15,"x":338141,"d":-1.98},{"p":83,"c":15,"x":338198,"d":-2.35},{"p":83,"c":15,"x":338238,"d":-3.53},{"p":83,"c":15,"x":338218,"d":-4.14},{"p":83,"c":15,"x":338119,"d":-4.7},{"p":83,"c":15,"x":338032,"d":-4.92},{"p":83,"c":15,"x":338010,"d":-5.22},{"p":83,"c":15,"x":337945,"d":-5.5},{"p":83,"c":15,"x":337896,"d":-5.7},
{"p":84,"c":16,"x":337896,"d":-1.53},{"p":84,"c":16,"x":338010,"d":-2},{"p":84,"c":16,"x":338141,"d":-2.09},{"p":84,"c":16,"x":338185,"d":-2.49},{"p":84,"c":16,"x":338211,"d":-3.44},{"p":84,"c":16,"x":338189,"d":-4.14},{"p":84,"c":16,"x":338098,"d":-4.52},{"p":84,"c":16,"x":337967,"d":-4.83},{"p":84,"c":16,"x":337896,"d":-5.18},
{"p":85,"c":17,"x":337896,"d":-1.79},{"p":85,"c":17,"x":338054,"d":-2.09},{"p":85,"c":17,"x":338141,"d":-2.31},{"p":85,"c":17,"x":338176,"d":-2.66},{"p":85,"c":17,"x":338194,"d":-3.53},{"p":85,"c":17,"x":338172,"d":-4.23},{"p":85,"c":17,"x":338098,"d":-4.45},{"p":85,"c":17,"x":337967,"d":-4.7},{"p":85,"c":17,"x":337896,"d":-5.01},
{"p":86,"c":18,"x":337896,"d":-1.97},{"p":86,"c":18,"x":338010,"d":-2.14},{"p":86,"c":18,"x":338098,"d":-2.35},{"p":86,"c":18,"x":338150,"d":-2.92},{"p":86,"c":18,"x":338176,"d":-3.53},{"p":86,"c":18,"x":338150,"d":-4.14},{"p":86,"c":18,"x":338076,"d":-4.4},{"p":86,"c":18,"x":337967,"d":-4.57},{"p":86,"c":18,"x":337896,"d":-4.75},
{"p":87,"c":19,"x":337896,"d":-2.23},{"p":87,"c":19,"x":338010,"d":-2.28},{"p":87,"c":19,"x":338098,"d":-2.57},{"p":87,"c":19,"x":338141,"d":-3.27},{"p":87,"c":19,"x":338148,"d":-3.53},{"p":87,"c":19,"x":338128,"d":-3.97},{"p":87,"c":19,"x":338054,"d":-4.31},{"p":87,"c":19,"x":337967,"d":-4.43},{"p":87,"c":19,"x":337896,"d":-4.52},
{"p":88,"c":20,"x":337896,"d":-2.31},{"p":88,"c":20,"x":338032,"d":-2.54},{"p":88,"c":20,"x":338098,"d":-2.83},{"p":88,"c":20,"x":338119,"d":-3.48},{"p":88,"c":20,"x":338098,"d":-4.05},{"p":88,"c":20,"x":338010,"d":-4.23},{"p":88,"c":20,"x":337896,"d":-4.4},
{"p":89,"c":21,"x":337896,"d":-2.57},{"p":89,"c":21,"x":337988,"d":-2.49},{"p":89,"c":21,"x":338054,"d":-2.75},{"p":89,"c":21,"x":338093,"d":-3.36},{"p":89,"c":21,"x":338080,"d":-3.97},{"p":89,"c":21,"x":338010,"d":-4.14},{"p":89,"c":21,"x":337896,"d":-4.35},
{"p":90,"c":22,"x":337914,"d":-3.36},{"p":90,"c":22,"x":337936,"d":-2.92},{"p":90,"c":22,"x":337997,"d":-2.61},{"p":90,"c":22,"x":338043,"d":-2.78},{"p":90,"c":22,"x":338019,"d":-3.01},{"p":90,"c":22,"x":338067,"d":-3.48},{"p":90,"c":22,"x":338054,"d":-3.88},{"p":90,"c":22,"x":337967,"d":-3.97},{"p":90,"c":22,"x":337923,"d":-3.7},
{"p":91,"c":23,"x":337968,"d":-3.57},{"p":91,"c":23,"x":338001,"d":-3.32},{"p":91,"c":23,"x":338041,"d":-3.58},{"p":91,"c":23,"x":338010,"d":-3.83},{"p":91,"c":23,"x":337975,"d":-3.76},
{"p":92,"c":14,"x":337896,"d":-6.31},{"p":92,"c":14,"x":337967,"d":-6.75},{"p":92,"c":14,"x":338054,"d":-6.96},{"p":92,"c":14,"x":338141,"d":-7.27},{"p":92,"c":14,"x":338192,"d":-8.05},{"p":92,"c":14,"x":338168,"d":-8.83},{"p":92,"c":14,"x":338098,"d":-9.36},{"p":92,"c":14,"x":338045,"d":-10.05},{"p":92,"c":14,"x":337967,"d":-11.1},{"p":92,"c":14,"x":337896,"d":-11.1},
{"p":93,"c":15,"x":337896,"d":-6.66},{"p":93,"c":15,"x":338010,"d":-7.01},{"p":93,"c":15,"x":338119,"d":-7.27},{"p":93,"c":15,"x":338170,"d":-8.05},{"p":93,"c":15,"x":338141,"d":-8.83},{"p":93,"c":15,"x":338054,"d":-9.53},{"p":93,"c":15,"x":338001,"d":-10.05},{"p":93,"c":15,"x":337923,"d":-11.1},{"p":93,"c":15,"x":337896,"d":-11.1},
{"p":94,"c":16,"x":337896,"d":-6.92},{"p":94,"c":16,"x":338032,"d":-7.1},{"p":94,"c":16,"x":338106,"d":-7.44},{"p":94,"c":16,"x":338139,"d":-8.05},{"p":94,"c":16,"x":338111,"d":-8.66},{"p":94,"c":16,"x":338010,"d":-9.18},{"p":94,"c":16,"x":337909,"d":-9.53},{"p":94,"c":16,"x":337896,"d":-9.62},
{"p":95,"c":17,"x":337896,"d":-7.18},{"p":95,"c":17,"x":338032,"d":-7.3},{"p":95,"c":17,"x":338098,"d":-7.53},{"p":95,"c":17,"x":338113,"d":-8.05},{"p":95,"c":17,"x":338085,"d":-8.57},{"p":95,"c":17,"x":337988,"d":-8.92},{"p":95,"c":17,"x":337896,"d":-9.1},
{"p":96,"c":18,"x":337896,"d":-7.44},{"p":96,"c":18,"x":337967,"d":-7.36},{"p":96,"c":18,"x":338054,"d":-7.44},{"p":96,"c":18,"x":338089,"d":-7.97},{"p":96,"c":18,"x":338063,"d":-8.49},{"p":96,"c":18,"x":337967,"d":-8.7},{"p":96,"c":18,"x":337896,"d":-8.66},
{"p":97,"c":19,"x":337984,"d":-7.88},{"p":97,"c":19,"x":338001,"d":-7.74},{"p":97,"c":19,"x":338021,"d":-7.88},{"p":97,"c":19,"x":338004,"d":-8.05}
]},"transform":[{"window":[{"op":"row_number","as":"i"}]}],"mark":{"type":"line","interpolate":"cardinal-closed","tension":0.3,"clip":true,"strokeWidth":0},"encoding":{"x":{"field":"x","type":"quantitative","scale":{"domain":[337835.4,338977.5],"nice":false,"zero":false},"axis":{"zindex":1,"values":[337950,338150,338350,338550,338750,338950],"format":"d","grid":false,"domain":false,"labelFontSize":12,"labelColor":"#222","tickColor":"#222","tickSize":4,"labelPadding":21,"title":"Distancia en m","titleFontSize":20,"titleFontWeight":"normal","titleColor":"#222","titleX":469,"titleY":71}},"y":{"field":"d","type":"quantitative","scale":{"domain":[-10,0],"nice":false,"zero":false},"axis":{"zindex":1,"values":[0,-10],"format":"d","grid":false,"domain":false,"ticks":false,"offset":-56,"labelAngle":-90,"labelAlign":"center","labelBaseline":"bottom","labelPadding":3,"labelFontSize":14,"labelColor":"#222","title":"Profundidad en m","titleFontSize":20,"titleFontWeight":"normal","titleColor":"#222","titleX":-17,"titleY":115}},"fill":{"field":"c","type":"nominal","legend":null,"scale":{"domain":[0,2,3,4,5,6,7,8,9,10,11,13,14,15,16,17,18,19,20,21,22,23,24,25],"range":["#FFFF66","#FFCC00","#C89B32","#996633","#FF6633","#FF9933","#FFCC99","#CCCCFF","#00CCFF","#3399FF","#6666FF","#3300CC","#99FF00","#33CC33","#009933","#669933","#99FF99","#FF99CC","#FF6699","#FF6666","#FF0000","#990000","#7F1A1A","#663333"]}},"detail":{"field":"p"},"order":{"field":"i"}}},
{"data":{"values":[{"x":337835.4,"x2":337909,"a":-10.3,"b":0.3}]},"mark":{"type":"rect","fill":"white"},"encoding":{"x":{"field":"x","type":"quantitative"},"x2":{"field":"x2"},"y":{"field":"a","type":"quantitative"},"y2":{"field":"b"}}},
{"data":{"values":[{"x":337909,"x2":338977.5,"a":-10,"b":0}]},"mark":{"type":"rect","fill":null,"stroke":"#222","strokeWidth":1.5},"encoding":{"x":{"field":"x","type":"quantitative"},"x2":{"field":"x2"},"y":{"field":"a","type":"quantitative"},"y2":{"field":"b"}}}
]},
{"width":870,"height":61,"data":{"values":[{"i":0,"n":1,"k":"#FFFF66","l":"0"},{"i":1,"n":2,"k":"#FFFF66","l":"0.1"},{"i":2,"n":3,"k":"#FFCC00","l":"0.15"},{"i":3,"n":4,"k":"#C89B32","l":"0.2"},{"i":4,"n":5,"k":"#996633","l":"0.25"},{"i":5,"n":6,"k":"#FF6633","l":"0.3"},{"i":6,"n":7,"k":"#FF9933","l":"0.4"},{"i":7,"n":8,"k":"#FFCC99","l":"0.5"},{"i":8,"n":9,"k":"#CCCCFF","l":"0.6"},{"i":9,"n":10,"k":"#00CCFF","l":"0.7"},{"i":10,"n":11,"k":"#3399FF","l":"0.8"},{"i":11,"n":12,"k":"#6666FF","l":"0.9"},{"i":12,"n":13,"k":"#330099","l":"1"},{"i":13,"n":14,"k":"#3300CC","l":"1.2"},{"i":14,"n":15,"k":"#99FF00","l":"1.5"},{"i":15,"n":16,"k":"#33CC33","l":"2"},{"i":16,"n":17,"k":"#009933","l":"2.5"},{"i":17,"n":18,"k":"#669933","l":"3"},{"i":18,"n":19,"k":"#99FF99","l":"4"},{"i":19,"n":20,"k":"#FF99CC","l":"5"},{"i":20,"n":21,"k":"#FF6699","l":"6"},{"i":21,"n":22,"k":"#FF6666","l":"7"},{"i":22,"n":23,"k":"#FF0000","l":"8"},{"i":23,"n":24,"k":"#990000","l":"9"},{"i":24,"n":25,"k":"#7F1A1A","l":"10"},{"i":25,"n":26,"k":"#663333","l":""}]},"layer":[
{"mark":{"type":"rect","stroke":"#333","strokeWidth":1.5},"encoding":{"x":{"field":"i","type":"quantitative","scale":{"domain":[-1.254,26],"nice":false,"zero":false},"axis":{"labels":false,"ticks":false,"domain":false,"grid":false,"title":"Factor de seguridad contra licuación","titleFontSize":19.6,"titleFontWeight":"normal","titleColor":"#222","titleX":469,"titleY":37}},"x2":{"field":"n"},"y":{"datum":0.55,"type":"quantitative","scale":{"domain":[0,1]},"axis":null},"y2":{"datum":0},"fill":{"field":"k","type":"nominal","scale":null}}},
{"mark":{"type":"text","font":"DejaVu Sans","fontSize":10.5,"dy":7,"fill":"#222"},"encoding":{"x":{"field":"n","type":"quantitative"},"y":{"datum":0,"type":"quantitative"},"text":{"field":"l"}}}
]},
{"width":870,"height":191.5,"layer":[
{"data":{"values":[
{"p":1,"c":12,"x":337800,"d":1},{"p":1,"c":12,"x":339100,"d":1},{"p":1,"c":12,"x":339100,"d":-11},{"p":1,"c":12,"x":337800,"d":-11},
{"p":2,"c":13,"x":337885,"d":0.28},{"p":2,"c":13,"x":337935,"d":0.28},{"p":2,"c":13,"x":337927,"d":-0.42},{"p":2,"c":13,"x":337925,"d":-2.33},{"p":2,"c":13,"x":337941,"d":-4.16},{"p":2,"c":13,"x":337927,"d":-4.95},{"p":2,"c":13,"x":337925,"d":-7.04},{"p":2,"c":13,"x":337942,"d":-8.08},{"p":2,"c":13,"x":338016,"d":-8.47},{"p":2,"c":13,"x":338146,"d":-8.52},{"p":2,"c":13,"x":338186,"d":-8.87},{"p":2,"c":13,"x":338214,"d":-10.17},{"p":2,"c":13,"x":338216,"d":-10.7},{"p":2,"c":13,"x":337885,"d":-10.7},
{"p":3,"c":14,"x":337885,"d":-3.73},{"p":3,"c":14,"x":337909,"d":-3.64},{"p":3,"c":14,"x":337918,"d":-4.16},{"p":3,"c":14,"x":337909,"d":-4.69},{"p":3,"c":14,"x":337885,"d":-4.77},
{"p":4,"c":14,"x":337885,"d":-8.17},{"p":4,"c":14,"x":337912,"d":-8.26},{"p":4,"c":14,"x":337951,"d":-8.61},{"p":4,"c":14,"x":338038,"d":-8.78},{"p":4,"c":14,"x":338112,"d":-8.92},{"p":4,"c":14,"x":338146,"d":-9.3},{"p":4,"c":14,"x":338166,"d":-10.17},{"p":4,"c":14,"x":337885,"d":-10.4},
{"p":5,"c":15,"x":337885,"d":-8.43},{"p":5,"c":15,"x":337909,"d":-8.47},{"p":5,"c":15,"x":337972,"d":-8.95},{"p":5,"c":15,"x":338051,"d":-9.13},{"p":5,"c":15,"x":338103,"d":-9.65},{"p":5,"c":15,"x":338122,"d":-10.52},{"p":5,"c":15,"x":337885,"d":-10.52},
{"p":6,"c":16,"x":337885,"d":-8.69},{"p":6,"c":16,"x":337929,"d":-9.04},{"p":6,"c":16,"x":338016,"d":-9.39},{"p":6,"c":16,"x":338064,"d":-9.83},{"p":6,"c":16,"x":338081,"d":-10.52},{"p":6,"c":16,"x":337885,"d":-10.52},
{"p":7,"c":17,"x":337885,"d":-8.78},{"p":7,"c":17,"x":337916,"d":-8.87},{"p":7,"c":17,"x":337972,"d":-9.39},{"p":7,"c":17,"x":338016,"d":-9.65},{"p":7,"c":17,"x":338036,"d":-10.52},{"p":7,"c":17,"x":337885,"d":-10.52},
{"p":8,"c":18,"x":337885,"d":-9.13},{"p":8,"c":18,"x":337920,"d":-9.21},{"p":8,"c":18,"x":337964,"d":-9.65},{"p":8,"c":18,"x":337990,"d":-10.35},{"p":8,"c":18,"x":337885,"d":-10.52},
{"p":9,"c":19,"x":337890,"d":-9.65},{"p":9,"c":19,"x":337920,"d":-9.74},{"p":9,"c":19,"x":337938,"d":-10.26},{"p":9,"c":19,"x":337890,"d":-10.52},
{"p":10,"c":11,"x":337946,"d":0.28},{"p":10,"c":11,"x":338120,"d":0.28},{"p":10,"c":11,"x":338133,"d":-0.59},{"p":10,"c":11,"x":338133,"d":-3.38},{"p":10,"c":11,"x":338113,"d":-4.2},{"p":10,"c":11,"x":338133,"d":-5.03},{"p":10,"c":11,"x":338136,"d":-7.04},{"p":10,"c":11,"x":338112,"d":-8.26},{"p":10,"c":11,"x":338038,"d":-8.4},{"p":10,"c":11,"x":337955,"d":-8.17},{"p":10,"c":11,"x":337943,"d":-7.21},{"p":10,"c":11,"x":337943,"d":-5.03},{"p":10,"c":11,"x":337962,"d":-4.2},{"p":10,"c":11,"x":337943,"d":-3.47},{"p":10,"c":11,"x":337943,"d":-0.42},
{"p":11,"c":10,"x":337959,"d":0.28},{"p":11,"c":10,"x":338099,"d":0.28},{"p":11,"c":10,"x":338099,"d":-3.47},{"p":11,"c":10,"x":338068,"d":-4.08},{"p":11,"c":10,"x":338099,"d":-4.69},{"p":11,"c":10,"x":338099,"d":-7.21},{"p":11,"c":10,"x":338077,"d":-8.17},{"p":11,"c":10,"x":337986,"d":-8.26},{"p":11,"c":10,"x":337959,"d":-7.56},{"p":11,"c":10,"x":337957,"d":-4.95},{"p":11,"c":10,"x":337983,"d":-4.11},{"p":11,"c":10,"x":337957,"d":-3.47},
{"p":12,"c":9,"x":337972,"d":0.28},{"p":12,"c":9,"x":338079,"d":0.28},{"p":12,"c":9,"x":338079,"d":-3.12},{"p":12,"c":9,"x":338059,"d":-3.87},{"p":12,"c":9,"x":338025,"d":-3.94},{"p":12,"c":9,"x":337986,"d":-3.87},{"p":12,"c":9,"x":337972,"d":-3.03},
{"p":13,"c":9,"x":337972,"d":-4.77},{"p":13,"c":9,"x":337994,"d":-4.46},{"p":13,"c":9,"x":338051,"d":-4.46},{"p":13,"c":9,"x":338077,"d":-4.77},{"p":13,"c":9,"x":338079,"d":-7.04},{"p":13,"c":9,"x":338068,"d":-8},{"p":13,"c":9,"x":337986,"d":-8.08},{"p":13,"c":9,"x":337972,"d":-6.86},
{"p":14,"c":8,"x":337988,"d":0.28},{"p":14,"c":8,"x":338059,"d":0.28},{"p":14,"c":8,"x":338059,"d":-3.21},{"p":14,"c":8,"x":338033,"d":-3.76},{"p":14,"c":8,"x":338003,"d":-3.76},{"p":14,"c":8,"x":337988,"d":-3.21},
{"p":15,"c":8,"x":337987,"d":-4.95},{"p":15,"c":8,"x":338003,"d":-4.63},{"p":15,"c":8,"x":338042,"d":-4.63},{"p":15,"c":8,"x":338059,"d":-5.12},{"p":15,"c":8,"x":338059,"d":-7.04},{"p":15,"c":8,"x":338042,"d":-7.65},{"p":15,"c":8,"x":338046,"d":-8},{"p":15,"c":8,"x":338001,"d":-8},{"p":15,"c":8,"x":338005,"d":-7.56},{"p":15,"c":8,"x":337987,"d":-7.04},
{"p":16,"c":7,"x":338005,"d":-0.07},{"p":16,"c":7,"x":338036,"d":-0.07},{"p":16,"c":7,"x":338038,"d":-3.29},{"p":16,"c":7,"x":338021,"d":-3.64},{"p":16,"c":7,"x":338005,"d":-3.29},
{"p":17,"c":7,"x":338004,"d":-4.95},{"p":17,"c":7,"x":338020,"d":-4.74},{"p":17,"c":7,"x":338038,"d":-4.95},{"p":17,"c":7,"x":338038,"d":-7.13},{"p":17,"c":7,"x":338020,"d":-7.48},{"p":17,"c":7,"x":338004,"d":-7.13},
{"p":18,"c":11,"x":338320,"d":-0.05},{"p":18,"c":11,"x":338370,"d":0.28},{"p":18,"c":11,"x":338936,"d":0.28},{"p":18,"c":11,"x":338942,"d":-1.11},{"p":18,"c":11,"x":338951,"d":-4.6},{"p":18,"c":11,"x":338947,"d":-8.96},{"p":18,"c":11,"x":338951,"d":-10.52},{"p":18,"c":11,"x":338277,"d":-10.52},{"p":18,"c":11,"x":338266,"d":-9.65},{"p":18,"c":11,"x":338259,"d":-7.21},{"p":18,"c":11,"x":338270,"d":-3.73},{"p":18,"c":11,"x":338275,"d":-1.11},{"p":18,"c":11,"x":338277,"d":-0.42},
{"p":19,"c":10,"x":338349,"d":0.28},{"p":19,"c":10,"x":338346,"d":-1.11},{"p":19,"c":10,"x":338338,"d":-5.47},{"p":19,"c":10,"x":338336,"d":-9.48},{"p":19,"c":10,"x":338340,"d":-10.52},{"p":19,"c":10,"x":338936,"d":-10.52},{"p":19,"c":10,"x":338936,"d":-8.08},{"p":19,"c":10,"x":338936,"d":-4.6},{"p":19,"c":10,"x":338925,"d":-1.11},{"p":19,"c":10,"x":338923,"d":0.28},
{"p":20,"c":9,"x":338381,"d":0.28},{"p":20,"c":9,"x":338379,"d":-0.77},{"p":20,"c":9,"x":338370,"d":-8.08},{"p":20,"c":9,"x":338373,"d":-10.52},{"p":20,"c":9,"x":338923,"d":-10.52},{"p":20,"c":9,"x":338914,"d":-8.08},{"p":20,"c":9,"x":338921,"d":-4.6},{"p":20,"c":9,"x":338908,"d":-1.11},{"p":20,"c":9,"x":338908,"d":0.28},
{"p":21,"c":8,"x":338403,"d":0.28},{"p":21,"c":8,"x":338401,"d":-0.59},{"p":21,"c":8,"x":338393,"d":-9.13},{"p":21,"c":8,"x":338398,"d":-10.52},{"p":21,"c":8,"x":338908,"d":-10.52},{"p":21,"c":8,"x":338894,"d":-7.21},{"p":21,"c":8,"x":338903,"d":-4.6},{"p":21,"c":8,"x":338890,"d":-1.11},{"p":21,"c":8,"x":338894,"d":0.28},
{"p":22,"c":7,"x":338420,"d":0.28},{"p":22,"c":7,"x":338423,"d":-0.24},{"p":22,"c":7,"x":338416,"d":-3.73},{"p":22,"c":7,"x":338412,"d":-10},{"p":22,"c":7,"x":338412,"d":-10.7},{"p":22,"c":7,"x":338897,"d":-10.7},{"p":22,"c":7,"x":338881,"d":-7.21},{"p":22,"c":7,"x":338888,"d":-4.6},{"p":22,"c":7,"x":338868,"d":-0.94},{"p":22,"c":7,"x":338877,"d":-0.24},{"p":22,"c":7,"x":338877,"d":0.28},
{"p":23,"c":8,"x":338612,"d":0.28},{"p":23,"c":8,"x":338692,"d":0.28},{"p":23,"c":8,"x":338692,"d":-1.03},{"p":23,"c":8,"x":338664,"d":-2.86},{"p":23,"c":8,"x":338649,"d":-3.99},{"p":23,"c":8,"x":338629,"d":-2.51},{"p":23,"c":8,"x":338616,"d":-1.11},
{"p":24,"c":8,"x":338768,"d":-0.85},{"p":24,"c":8,"x":338790,"d":-0.07},{"p":24,"c":8,"x":338816,"d":-0.07},{"p":24,"c":8,"x":338838,"d":-0.94},{"p":24,"c":8,"x":338821,"d":-1.81},{"p":24,"c":8,"x":338794,"d":-2.07},{"p":24,"c":8,"x":338773,"d":-1.46},
{"p":25,"c":9,"x":338631,"d":0.2},{"p":25,"c":9,"x":338677,"d":0.2},{"p":25,"c":9,"x":338655,"d":-0.24},
{"p":26,"c":9,"x":338636,"d":-0.85},{"p":26,"c":9,"x":338651,"d":-0.5},{"p":26,"c":9,"x":338669,"d":-0.85},{"p":26,"c":9,"x":338662,"d":-1.43},{"p":26,"c":9,"x":338644,"d":-1.46},
{"p":27,"c":6,"x":338451,"d":0.28},{"p":27,"c":6,"x":338453,"d":-1.11},{"p":27,"c":6,"x":338442,"d":-3.73},{"p":27,"c":6,"x":338433,"d":-8.08},{"p":27,"c":6,"x":338436,"d":-10.7},{"p":27,"c":6,"x":338620,"d":-10.7},{"p":27,"c":6,"x":338618,"d":-8.08},{"p":27,"c":6,"x":338607,"d":-2.86},{"p":27,"c":6,"x":338590,"d":-0.94},{"p":27,"c":6,"x":338598,"d":0.28},
{"p":28,"c":6,"x":338703,"d":-0.24},{"p":28,"c":6,"x":338707,"d":0.2},{"p":28,"c":6,"x":338760,"d":0.2},{"p":28,"c":6,"x":338747,"d":-0.94},{"p":28,"c":6,"x":338773,"d":-2.51},{"p":28,"c":6,"x":338792,"d":-4.25},{"p":28,"c":6,"x":338807,"d":-4.6},{"p":28,"c":6,"x":338816,"d":-3.99},{"p":28,"c":6,"x":338831,"d":-3.12},{"p":28,"c":6,"x":338855,"d":-2.94},{"p":28,"c":6,"x":338877,"d":-4.25},{"p":28,"c":6,"x":338879,"d":-5.3},{"p":28,"c":6,"x":338871,"d":-7.56},{"p":28,"c":6,"x":338881,"d":-9.13},{"p":28,"c":6,"x":338881,"d":-10.7},{"p":28,"c":6,"x":338681,"d":-10.7},{"p":28,"c":6,"x":338679,"d":-5.47},{"p":28,"c":6,"x":338699,"d":-1.64},{"p":28,"c":6,"x":338707,"d":-0.77},
{"p":29,"c":7,"x":338810,"d":-5.91},{"p":29,"c":7,"x":338814,"d":-6.34},{"p":29,"c":7,"x":338838,"d":-7.04},{"p":29,"c":7,"x":338825,"d":-7.39},{"p":29,"c":7,"x":338831,"d":-8.08},{"p":29,"c":7,"x":338842,"d":-8.78},{"p":29,"c":7,"x":338799,"d":-9.04},{"p":29,"c":7,"x":338784,"d":-8.61},{"p":29,"c":7,"x":338794,"d":-6.86},
{"p":30,"c":5,"x":338470,"d":0.28},{"p":30,"c":5,"x":338468,"d":-1.11},{"p":30,"c":5,"x":338460,"d":-4.6},{"p":30,"c":5,"x":338457,"d":-10.7},{"p":30,"c":5,"x":338601,"d":-10.7},{"p":30,"c":5,"x":338599,"d":-7.21},{"p":30,"c":5,"x":338597,"d":-4.6},{"p":30,"c":5,"x":338577,"d":-3.29},{"p":30,"c":5,"x":338566,"d":-4.08},{"p":30,"c":5,"x":338552,"d":-5.47},{"p":30,"c":5,"x":338540,"d":-4.43},{"p":30,"c":5,"x":338529,"d":-1.99},{"p":30,"c":5,"x":338531,"d":0.28},
{"p":31,"c":5,"x":338738,"d":-1.55},{"p":31,"c":5,"x":338755,"d":-2.68},{"p":31,"c":5,"x":338766,"d":-4.25},{"p":31,"c":5,"x":338770,"d":-6.34},{"p":31,"c":5,"x":338764,"d":-8.43},{"p":31,"c":5,"x":338773,"d":-9.3},{"p":31,"c":5,"x":338764,"d":-10.7},{"p":31,"c":5,"x":338684,"d":-10.7},{"p":31,"c":5,"x":338699,"d":-8.43},{"p":31,"c":5,"x":338694,"d":-5.47},{"p":31,"c":5,"x":338705,"d":-3.21},{"p":31,"c":5,"x":338720,"d":-1.9},
{"p":32,"c":5,"x":338717,"d":-0.33},{"p":32,"c":5,"x":338738,"d":-0.24},{"p":32,"c":5,"x":338738,"d":-0.51},{"p":32,"c":5,"x":338723,"d":-0.56},
{"p":33,"c":5,"x":338840,"d":-9.65},{"p":33,"c":5,"x":338851,"d":-9.27},{"p":33,"c":5,"x":338862,"d":-9.65},{"p":33,"c":5,"x":338851,"d":-10},
{"p":34,"c":5,"x":338847,"d":-2.51},{"p":34,"c":5,"x":338858,"d":-2.51},{"p":34,"c":5,"x":338858,"d":-2.68},{"p":34,"c":5,"x":338847,"d":-2.68},
{"p":35,"c":4,"x":338734,"d":-2.6},{"p":35,"c":4,"x":338747,"d":-3.03},{"p":35,"c":4,"x":338753,"d":-4.6},{"p":35,"c":4,"x":338753,"d":-6.69},{"p":35,"c":4,"x":338749,"d":-7.91},{"p":35,"c":4,"x":338707,"d":-7.91},{"p":35,"c":4,"x":338705,"d":-6.34},{"p":35,"c":4,"x":338707,"d":-4.25},{"p":35,"c":4,"x":338716,"d":-2.86},
{"p":36,"c":4,"x":338714,"d":-8.26},{"p":36,"c":4,"x":338742,"d":-8.26},{"p":36,"c":4,"x":338742,"d":-8.43},{"p":36,"c":4,"x":338714,"d":-8.43},
{"p":37,"c":4,"x":338710,"d":-8.78},{"p":37,"c":4,"x":338734,"d":-8.61},{"p":37,"c":4,"x":338753,"d":-9.04},{"p":37,"c":4,"x":338747,"d":-9.65},{"p":37,"c":4,"x":338738,"d":-10.26},{"p":37,"c":4,"x":338714,"d":-10.26},{"p":37,"c":4,"x":338710,"d":-9.3},
{"p":38,"c":3,"x":338727,"d":-4.95},{"p":38,"c":3,"x":338736,"d":-4.6},{"p":38,"c":3,"x":338738,"d":-5.21},{"p":38,"c":3,"x":338727,"d":-5.12},
{"p":39,"c":3,"x":338727,"d":-5.56},{"p":39,"c":3,"x":338738,"d":-5.47},{"p":39,"c":3,"x":338736,"d":-5.73},
{"p":40,"c":3,"x":338727,"d":-6.78},{"p":40,"c":3,"x":338738,"d":-6.69},{"p":40,"c":3,"x":338727,"d":-6.9},
{"p":41,"c":4,"x":338480,"d":0.28},{"p":41,"c":4,"x":338480,"d":-1.99},{"p":41,"c":4,"x":338475,"d":-6.34},{"p":41,"c":4,"x":338473,"d":-10.7},{"p":41,"c":4,"x":338531,"d":-10.7},{"p":41,"c":4,"x":338527,"d":-6.34},{"p":41,"c":4,"x":338520,"d":-2.86},{"p":41,"c":4,"x":338520,"d":0.28},
{"p":42,"c":3,"x":338488,"d":0.28},{"p":42,"c":3,"x":338486,"d":-2.86},{"p":42,"c":3,"x":338480,"d":-7.21},{"p":42,"c":3,"x":338480,"d":-10.7},{"p":42,"c":3,"x":338520,"d":-10.7},{"p":42,"c":3,"x":338515,"d":-7.21},{"p":42,"c":3,"x":338510,"d":-2.86},{"p":42,"c":3,"x":338510,"d":0.28},
{"p":43,"c":2,"x":338493,"d":0.28},{"p":43,"c":2,"x":338492,"d":-2.86},{"p":43,"c":2,"x":338486,"d":-8.08},{"p":43,"c":2,"x":338486,"d":-10.7},{"p":43,"c":2,"x":338512,"d":-10.7},{"p":43,"c":2,"x":338507,"d":-7.21},{"p":43,"c":2,"x":338504,"d":-2.86},{"p":43,"c":2,"x":338502,"d":0.28},
{"p":44,"c":1,"x":338498,"d":-3.73},{"p":44,"c":1,"x":338492,"d":-9.83},{"p":44,"c":1,"x":338492,"d":-10.7},{"p":44,"c":1,"x":338505,"d":-10.7},{"p":44,"c":1,"x":338503,"d":-8.08},
{"p":45,"c":13,"x":338960,"d":0.28},{"p":45,"c":13,"x":338961,"d":-0.42},{"p":45,"c":13,"x":338977,"d":-4.6},{"p":45,"c":13,"x":338975,"d":-6.34},{"p":45,"c":13,"x":338968,"d":-10},{"p":45,"c":13,"x":338968,"d":-10.7},{"p":45,"c":13,"x":339034,"d":-10.7},{"p":45,"c":13,"x":339034,"d":0.28}
]},"transform":[{"window":[{"op":"row_number","as":"i"}]}],"mark":{"type":"line","interpolate":"cardinal-closed","tension":0.3,"clip":true,"strokeWidth":0},"encoding":{"x":{"field":"x","type":"quantitative","scale":{"domain":[337842,338977],"nice":false,"zero":false},"axis":{"zindex":1,"values":[337950,338150,338350,338550,338750,338950],"format":"d","grid":false,"domain":false,"labelFontSize":12,"labelColor":"#222","tickColor":"#222","tickSize":4,"labelPadding":16,"title":"Distancia en m","titleFontSize":20.5,"titleFontWeight":"normal","titleColor":"#222","titleX":463,"titleY":59}},"y":{"field":"d","type":"quantitative","scale":{"domain":[-10,0],"nice":false,"zero":false},"axis":{"zindex":1,"values":[0,-10],"format":"d","grid":false,"domain":false,"ticks":false,"offset":-50,"labelAngle":-90,"labelAlign":"center","labelBaseline":"bottom","labelPadding":3,"labelFontSize":14,"labelColor":"#222","title":"Profundidad en m","titleFontSize":19.5,"titleFontWeight":"normal","titleColor":"#222","titleX":-20,"titleY":105}},"fill":{"field":"c","type":"nominal","legend":null,"scale":{"domain":[1,2,3,4,5,6,7,8,9,10,11,12,13,14,15,16,17,18,19],"range":["#339966","#55FF00","#AAFF00","#FFF500","#C8B40F","#9C7A1E","#6B3A2E","#4D6666","#2CA5A5","#00E5E5","#3DE8F5","#9FBFDD","#FF99CC","#CC70CC","#9050CC","#6030CC","#3300CC","#7F007F","#B80040"]}},"detail":{"field":"p"},"order":{"field":"i"}}},
{"data":{"values":[{"x":337842,"x2":337907,"a":-10.3,"b":0.3}]},"mark":{"type":"rect","fill":"white"},"encoding":{"x":{"field":"x","type":"quantitative"},"x2":{"field":"x2"},"y":{"field":"a","type":"quantitative"},"y2":{"field":"b"}}},
{"data":{"values":[{"x":337907,"x2":338977,"a":-10,"b":0}]},"mark":{"type":"rect","fill":null,"stroke":"#222","strokeWidth":1.5},"encoding":{"x":{"field":"x","type":"quantitative"},"x2":{"field":"x2"},"y":{"field":"a","type":"quantitative"},"y2":{"field":"b"}}}
]},
{"width":870,"height":43,"data":{"values":[{"i":0,"n":1,"k":"#99CC33","l":"0.2"},{"i":1,"n":2,"k":"#339966","l":"0.4"},{"i":2,"n":3,"k":"#55FF00","l":"0.5"},{"i":3,"n":4,"k":"#AAFF00","l":"0.6"},{"i":4,"n":5,"k":"#FFF500","l":"0.7"},{"i":5,"n":6,"k":"#C8B40F","l":"0.8"},{"i":6,"n":7,"k":"#9C7A1E","l":"0.9"},{"i":7,"n":8,"k":"#6B3A2E","l":"1"},{"i":8,"n":9,"k":"#4D6666","l":"1.1"},{"i":9,"n":10,"k":"#2CA5A5","l":"1.2"},{"i":10,"n":11,"k":"#00E5E5","l":"1.3"},{"i":11,"n":12,"k":"#3DE8F5","l":"1.4"},{"i":12,"n":13,"k":"#9FBFDD","l":"1.5"},{"i":13,"n":14,"k":"#FF99CC","l":"1.6"},{"i":14,"n":15,"k":"#CC70CC","l":"1.7"},{"i":15,"n":16,"k":"#9050CC","l":"1.8"},{"i":16,"n":17,"k":"#6030CC","l":"1.9"},{"i":17,"n":18,"k":"#3300CC","l":"2"},{"i":18,"n":19,"k":"#7F007F","l":"2.1"},{"i":19,"n":20,"k":"#B80040","l":"2.2"},{"i":20,"n":21,"k":"#E00020","l":"2.25"}]},"layer":[
{"mark":{"type":"rect","stroke":"#333","strokeWidth":1.5},"encoding":{"x":{"field":"i","type":"quantitative","scale":{"domain":[-1.554,20.98],"nice":false,"zero":false},"axis":{"labels":false,"ticks":false,"domain":false,"grid":false,"title":"Desviación estándar del factor de seguridad contra licuación","titleFontSize":20.3,"titleFontWeight":"normal","titleColor":"#222","titleX":476,"titleY":41}},"x2":{"field":"n"},"y":{"datum":0.74,"type":"quantitative","scale":{"domain":[0,1]},"axis":null},"y2":{"datum":0},"fill":{"field":"k","type":"nominal","scale":null}}},
{"mark":{"type":"text","font":"DejaVu Sans","fontSize":10.5,"dy":8,"fill":"#222"},"encoding":{"x":{"field":"i","type":"quantitative"},"y":{"datum":0,"type":"quantitative"},"text":{"field":"l"}}}
]}
],"spacing":89,"bounds":"flush"}
